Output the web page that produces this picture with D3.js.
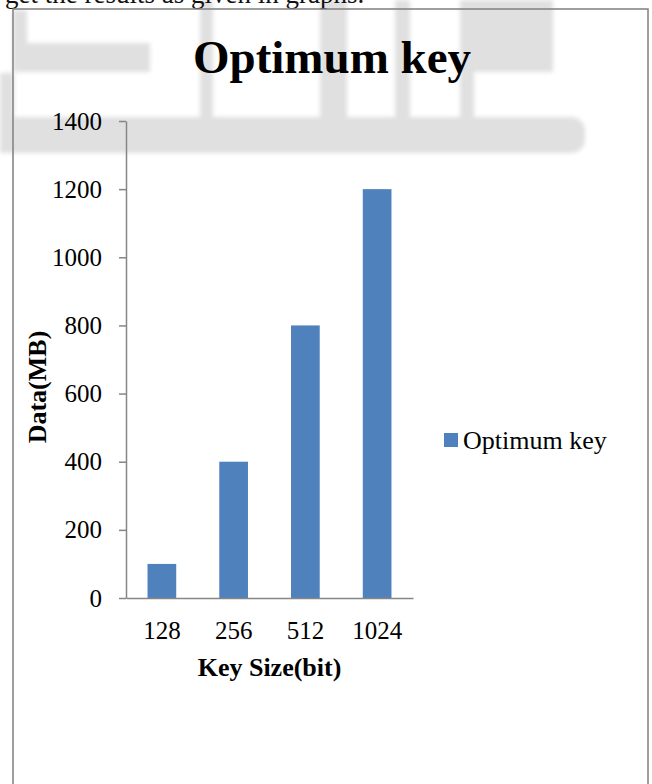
<!DOCTYPE html>
<html>
<head>
<meta charset="utf-8">
<script src="https://cdn.jsdelivr.net/npm/d3@7"></script>
<style>
  html, body { margin: 0; padding: 0; background: #fff; }
  svg { display: block; }
</style>
</head>
<body>
<script>
// Key sizes and the data volume handled at each size
const categories = ["128", "256", "512", "1024"];
const dataMB = [100, 400, 800, 1200];
const yTicks = [0, 200, 400, 600, 800, 1000, 1200, 1400];
const seriesName = "Optimum key";
const chartTitle = "Optimum key";
const xTitle = "Key Size(bit)";
const yTitle = "Data(MB)";

const W = 652, H = 784;
const svg = d3.select("body").append("svg").attr("width", W).attr("height", H);

// Soft grey page watermark behind the figure
const defs = svg.append("defs");
defs.append("filter").attr("id", "soft")
  .attr("x", "-10%").attr("y", "-10%").attr("width", "120%").attr("height", "120%")
  .append("feGaussianBlur").attr("stdDeviation", 2.2);
const wm = svg.append("g").attr("filter", "url(#soft)").attr("fill", "#e0e0e0");
const wmRects = [
  [0, 117, 585, 36, 14],
  [0, 73, 14, 80, 0],
  [13, 10, 14, 34, 0],
  [13, 43, 137, 29, 0],
  [200, 0, 13, 118, 0],
  [320, 0, 27, 118, 0],
  [395, 0, 15, 118, 0],
  [460, 0, 14, 118, 0],
  [470, 0, 83, 72, 0]
];
wm.selectAll("rect").data(wmRects).join("rect")
  .attr("x", d => d[0]).attr("y", d => d[1])
  .attr("width", d => d[2]).attr("height", d => d[3])
  .attr("rx", d => d[4]);

// Running text of the page above the figure
svg.append("text")
  .attr("x", 5).attr("y", 3)
  .attr("font-family", "'Liberation Serif', 'Times New Roman', serif")
  .attr("font-size", 27).attr("fill", "#111")
  .text("get the results as given in graphs.");

// Frame around the chart
svg.append("rect")
  .attr("x", 13).attr("y", 9).attr("width", 635).attr("height", 800)
  .attr("fill", "none").attr("stroke", "#7f7f7f").attr("stroke-width", 1.5);

const serif = "'Liberation Serif', 'Times New Roman', serif";
const plot = { left: 126, right: 413, top: 121, bottom: 598 };

const x = d3.scaleBand()
  .domain(categories)
  .range([plot.left, plot.right])
  .paddingInner(0.6).paddingOuter(0.3);

const y = d3.scaleLinear()
  .domain([0, 1400])
  .range([plot.bottom, plot.top]);

// Bars
svg.append("g").selectAll("rect")
  .data(categories.map((c, i) => ({ c, v: dataMB[i] })))
  .join("rect")
  .attr("x", d => x(d.c))
  .attr("y", d => y(d.v))
  .attr("width", x.bandwidth())
  .attr("height", d => y(0) - y(d.v))
  .attr("fill", "#4f81bd");

// Y axis
const yAxis = svg.append("g")
  .attr("transform", `translate(${plot.left},0)`)
  .call(d3.axisLeft(y).tickValues(yTicks).tickFormat(d3.format("d"))
    .tickSize(7).tickSizeOuter(0).tickPadding(17));
yAxis.selectAll("path, line").attr("stroke", "#868686").attr("stroke-width", 1.5);
yAxis.selectAll("text")
  .attr("font-family", serif).attr("font-size", 25).attr("fill", "#000");

// X axis
const xAxis = svg.append("g")
  .attr("transform", `translate(0,${plot.bottom})`)
  .call(d3.axisBottom(x).tickSize(0).tickSizeOuter(0));
xAxis.select(".domain").attr("stroke", "#868686").attr("stroke-width", 1.5);
xAxis.selectAll("text")
  .attr("font-family", serif).attr("font-size", 25).attr("fill", "#000")
  .attr("y", 41).attr("dy", 0);

// Titles
svg.append("text")
  .attr("x", 332).attr("y", 73)
  .attr("text-anchor", "middle")
  .attr("font-family", serif).attr("font-weight", "bold").attr("font-size", 47)
  .text(chartTitle);

svg.append("text")
  .attr("x", (plot.left + plot.right) / 2).attr("y", 676)
  .attr("text-anchor", "middle")
  .attr("font-family", serif).attr("font-weight", "bold").attr("font-size", 26)
  .text(xTitle);

svg.append("text")
  .attr("transform", "translate(46,387) rotate(-90)")
  .attr("text-anchor", "middle")
  .attr("font-family", serif).attr("font-weight", "bold").attr("font-size", 26)
  .text(yTitle);

// Legend
const legend = svg.append("g").attr("transform", "translate(444,433)");
legend.append("rect").attr("width", 14).attr("height", 14).attr("fill", "#4f81bd");
legend.append("text")
  .attr("x", 19).attr("y", 16)
  .attr("font-family", serif).attr("font-size", 26)
  .text(seriesName);
</script>
</body>
</html>
